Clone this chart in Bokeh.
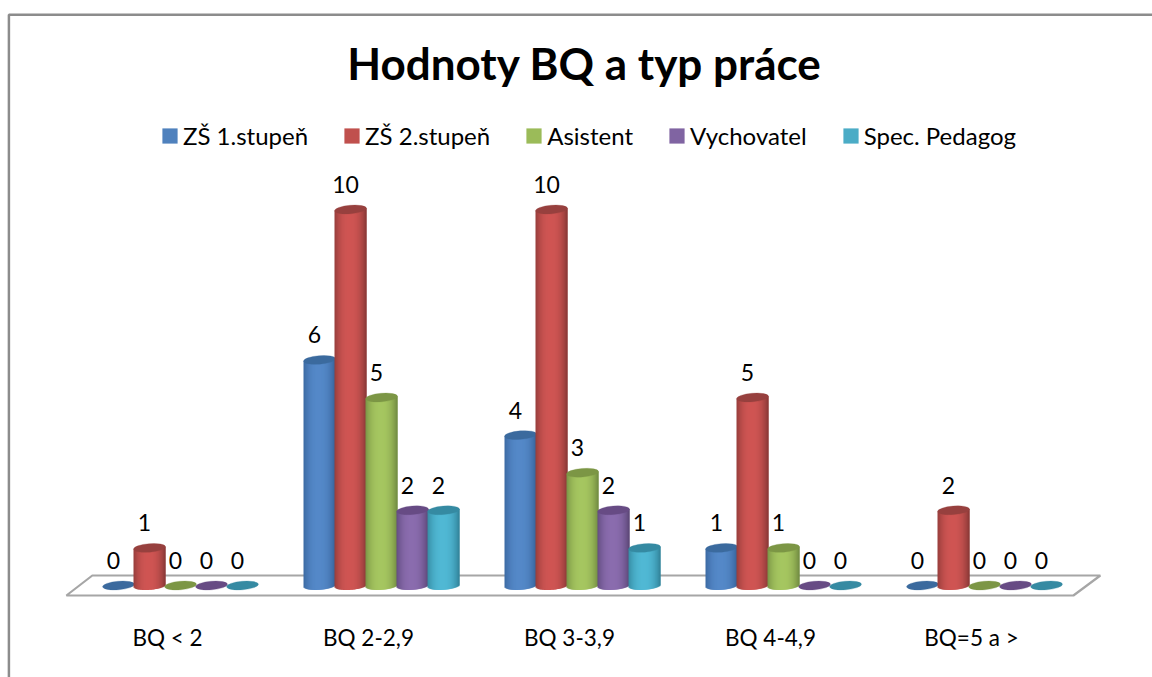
from bokeh.plotting import figure
from bokeh.embed import file_html
from bokeh.resources import INLINE
from bokeh.models import (Range1d, LinearAxis, FixedTicker, Legend, LegendItem, Label,
                          ColumnDataSource)
from bokeh.core.properties import value
import math

categories = ["BQ < 2", "BQ 2-2,9", "BQ 3-3,9", "BQ 4-4,9", "BQ=5 a >"]
series_names = ["ZŠ 1.stupeň", "ZŠ 2.stupeň", "Asistent", "Vychovatel", "Spec. Pedagog"]
zs1 = [0, 6, 4, 1, 0]
zs2 = [1, 10, 10, 5, 2]
asistent = [0, 5, 3, 1, 0]
vychovatel = [0, 2, 2, 0, 0]
spec_pedagog = [0, 2, 1, 0, 0]
series_values = [zs1, zs2, asistent, vychovatel, spec_pedagog]
title_text = "Hodnoty BQ a typ práce"

base = ["#4f81bd", "#c0504d", "#9bbb59", "#8064a2", "#4bacc6"]
bright = ["#5488c8", "#cf5553", "#a5c660", "#8a6cae", "#50b8d4"]
edge = ["#38659c", "#8d3a38", "#748e43", "#5e4979", "#33869d"]
cap = ["#3b6a9e", "#97403e", "#7c9645", "#674b84", "#358aa2"]

W, H = 1152, 677
FONT = "Lato"
PX_Y = 37.6         # px per unit of value
PX_X = 201.0        # px per category
X0 = 167.0          # px of category 0
Y0 = 585.0          # px of value 0
SERIES_STEP = 31.0
SKEW = 13.0         # the 3D depth shifts the bars right of the category label
BAR_W = 32.0
SLOPE = 0.08
NSTRIP = 32


def hexrgb(h):
    return [int(h[i:i + 2], 16) for i in (1, 3, 5)]


def mix(a, b, t):
    ca, cb = hexrgb(a), hexrgb(b)
    return "#%02x%02x%02x" % tuple(round(x + (y - x) * t) for x, y in zip(ca, cb))


p = figure(width=W, height=H, output_backend="svg", toolbar_location=None,
           x_range=Range1d(-X0 / PX_X, (W - X0) / PX_X),
           y_range=Range1d((Y0 - H) / PX_Y, Y0 / PX_Y),
           x_axis_type=None, y_axis_type=None,
           min_border_left=0, min_border_right=0, min_border_bottom=0, min_border_top=0)
p.grid.visible = False
p.outline_line_color = None
p.background_fill_color = "white"
p.border_fill_color = "white"

# chart frame, cut by the window on the right and at the bottom
p.line([-0.789, -0.789, 5], [-3, 15.18, 15.18], line_color="#8c8c8c", line_width=2.5)

# title
p.add_layout(Label(x=2.075, y=13.9, text=title_text, text_align="center",
                   text_baseline="alphabetic", text_font=FONT, text_font_size="44px",
                   text_font_style="bold", text_color="black"))

# floor of the 3D scene
p.patch([-0.503, -0.374, 4.641, 4.507], [-0.266, 0.266, 0.266, -0.266],
        fill_color="white", line_color="#a6a6a6", line_width=2.2)

# cylinders
for s, vals in enumerate(series_values):
    offset = ((s - 2) * SERIES_STEP + SKEW) / PX_X
    L, R, T, B, C = [], [], [], [], []
    for g, v in enumerate(vals):
        if v <= 0:
            continue
        for k in range(NSTRIP):
            t0, t1 = -1 + 2 * k / NSTRIP, -1 + 2 * (k + 1) / NSTRIP
            t = (t0 + t1) / 2
            dx = t * BAR_W / 2
            c = g + offset
            L.append(c + t0 * BAR_W / 2 / PX_X)
            # each strip runs under the next one, so that no seam shows
            R.append(c + min(t1 + 2 / NSTRIP, 1) * BAR_W / 2 / PX_X)
            T.append(v + SLOPE * dx / PX_Y)
            B.append((-4.3 * math.sqrt(max(0, 1 - t * t)) + SLOPE * dx) / PX_Y)
            C.append(mix(edge[s], bright[s], 1 - abs(t + 0.05) ** 2.4))
    p.quad(left="L", right="R", top="T", bottom="B", fill_color="C", line_color=None,
           source=ColumnDataSource(dict(L=L, R=R, T=T, B=B, C=C)))
    xs = [g + offset for g in range(len(vals))]
    p.ellipse(x=xs, y=vals, width=BAR_W / PX_X, height=8.5, height_units="screen",
              angle=SLOPE, fill_color=cap[s], line_color=cap[s], line_width=0.3)
    p.text(x=xs, y=vals, text=[str(v) for v in vals], x_offset=-5, y_offset=-25,
           text_align="center", text_baseline="middle",
           text_font=value(FONT), text_font_size="23px", text_color="black")

# category axis
ax = LinearAxis(ticker=FixedTicker(ticks=list(range(len(categories)))),
                major_label_overrides={i: c for i, c in enumerate(categories)},
                axis_line_color=None, major_tick_line_color=None, minor_tick_line_color=None,
                major_label_standoff=6, major_label_text_font=FONT,
                major_label_text_font_size="22.5px", major_label_text_color="black")
ax.fixed_location = -0.7
p.add_layout(ax, "below")

# legend
items = []
nan = float("nan")
for s, name in enumerate(series_names):
    r = p.quad(left=[nan], right=[nan], top=[nan], bottom=[nan], fill_color=base[s], line_color=None)
    items.append(LegendItem(label=name, renderers=[r]))
legend = Legend(items=items, orientation="horizontal", location=(160, 527),
                glyph_width=19, glyph_height=19, label_standoff=4, spacing=34, margin=0, padding=0,
                border_line_color=None, background_fill_alpha=0,
                label_text_font=FONT, label_text_font_size="24px", label_text_color="black")
p.add_layout(legend, "center")

open("out.html", "w").write(file_html(p, INLINE))
